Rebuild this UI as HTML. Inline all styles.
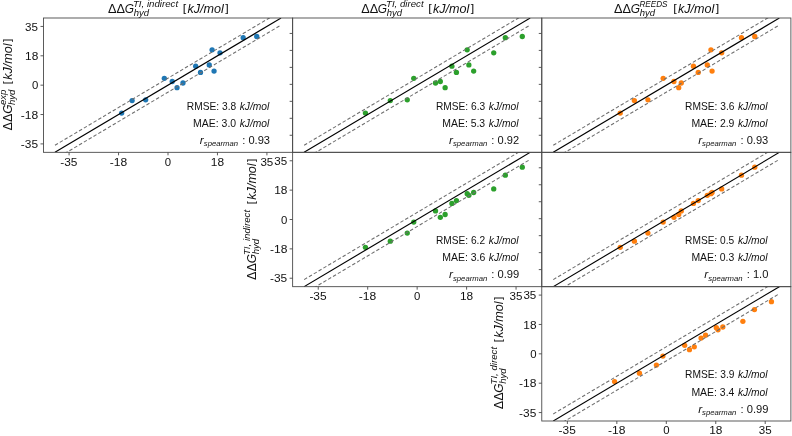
<!DOCTYPE html>
<html><head><meta charset="utf-8"><style>
html,body{margin:0;padding:0;background:#fff;}
body{width:792px;height:436px;overflow:hidden;}
svg{display:block;filter:blur(0.35px);}
text{font-family:"Liberation Sans",sans-serif;fill:#111;white-space:pre;}
.it{font-style:italic;}
</style></head><body>
<svg width="792" height="436" viewBox="0 0 792 436">
<rect x="0" y="0" width="792" height="436" fill="#fff"/>
<clipPath id="c00"><rect x="43.5" y="18" width="249.13" height="134.33"/></clipPath>
<rect x="43.5" y="18" width="249.13" height="134.33" fill="#fff"/>
<g clip-path="url(#c00)">
<circle cx="121.65" cy="113.04" r="2.65" fill="#1f77b4"/>
<circle cx="132.11" cy="100.62" r="2.65" fill="#1f77b4"/>
<circle cx="145.67" cy="99.78" r="2.65" fill="#1f77b4"/>
<circle cx="164.33" cy="78.3" r="2.65" fill="#1f77b4"/>
<circle cx="172.24" cy="81.49" r="2.65" fill="#1f77b4"/>
<circle cx="177.04" cy="87.7" r="2.65" fill="#1f77b4"/>
<circle cx="182.98" cy="83" r="2.65" fill="#1f77b4"/>
<circle cx="195.69" cy="66.22" r="2.65" fill="#1f77b4"/>
<circle cx="200.5" cy="72.43" r="2.65" fill="#1f77b4"/>
<circle cx="209.26" cy="64.88" r="2.65" fill="#1f77b4"/>
<circle cx="214.06" cy="71.09" r="2.65" fill="#1f77b4"/>
<circle cx="212.09" cy="49.78" r="2.65" fill="#1f77b4"/>
<circle cx="220" cy="52.8" r="2.65" fill="#1f77b4"/>
<circle cx="243.17" cy="37.7" r="2.65" fill="#1f77b4"/>
<circle cx="256.74" cy="36.52" r="2.65" fill="#1f77b4"/>
<line x1="54.96" y1="152.29" x2="281.04" y2="18.05" stroke="#000" stroke-width="1.15"/>
<line x1="54.96" y1="145.27" x2="281.04" y2="11.03" stroke="#6e6e6e" stroke-width="1.05" stroke-dasharray="3.5 2.1"/>
<line x1="54.96" y1="159.31" x2="281.04" y2="25.07" stroke="#6e6e6e" stroke-width="1.05" stroke-dasharray="3.5 2.1"/>
</g>
<text x="186.83" y="109.7" font-size="10.39" textLength="52.16" lengthAdjust="spacingAndGlyphs">RMSE: 3.8 </text>
<text x="239.67" y="109.7" font-size="10.39" class="it" textLength="29.68" lengthAdjust="spacingAndGlyphs">kJ/mol</text>
<text x="193.13" y="126.9" font-size="10.39" textLength="45.91" lengthAdjust="spacingAndGlyphs">MAE: 3.0 </text>
<text x="239.67" y="126.9" font-size="10.39" class="it" textLength="29.68" lengthAdjust="spacingAndGlyphs">kJ/mol</text>
<text x="199.89" y="144" font-size="10.39" class="it" textLength="3.99" lengthAdjust="spacingAndGlyphs">r</text>
<text x="203.83" y="146.4" font-size="7.27" class="it" textLength="34.23" lengthAdjust="spacingAndGlyphs">spearman</text>
<text x="239.14" y="144" font-size="10.39" textLength="30.9" lengthAdjust="spacingAndGlyphs"> : 0.93</text>
<clipPath id="c01"><rect x="292.63" y="18" width="249.14" height="134.33"/></clipPath>
<rect x="292.63" y="18" width="249.14" height="134.33" fill="#fff"/>
<g clip-path="url(#c01)">
<circle cx="365.43" cy="113.04" r="2.65" fill="#2ca02c"/>
<circle cx="390.3" cy="100.62" r="2.65" fill="#2ca02c"/>
<circle cx="407.26" cy="99.78" r="2.65" fill="#2ca02c"/>
<circle cx="413.76" cy="78.3" r="2.65" fill="#2ca02c"/>
<circle cx="440.32" cy="81.49" r="2.65" fill="#2ca02c"/>
<circle cx="445.13" cy="87.7" r="2.65" fill="#2ca02c"/>
<circle cx="435.52" cy="83" r="2.65" fill="#2ca02c"/>
<circle cx="451.91" cy="66.22" r="2.65" fill="#2ca02c"/>
<circle cx="456.43" cy="72.43" r="2.65" fill="#2ca02c"/>
<circle cx="468.87" cy="64.88" r="2.65" fill="#2ca02c"/>
<circle cx="473.67" cy="71.09" r="2.65" fill="#2ca02c"/>
<circle cx="467.17" cy="49.78" r="2.65" fill="#2ca02c"/>
<circle cx="493.73" cy="52.8" r="2.65" fill="#2ca02c"/>
<circle cx="505.32" cy="37.7" r="2.65" fill="#2ca02c"/>
<circle cx="522.28" cy="36.52" r="2.65" fill="#2ca02c"/>
<line x1="304.11" y1="152.29" x2="530.19" y2="18.05" stroke="#000" stroke-width="1.15"/>
<line x1="304.11" y1="145.27" x2="530.19" y2="11.03" stroke="#6e6e6e" stroke-width="1.05" stroke-dasharray="3.5 2.1"/>
<line x1="304.11" y1="159.31" x2="530.19" y2="25.07" stroke="#6e6e6e" stroke-width="1.05" stroke-dasharray="3.5 2.1"/>
</g>
<text x="435.97" y="109.7" font-size="10.39" textLength="52.04" lengthAdjust="spacingAndGlyphs">RMSE: 6.3 </text>
<text x="488.81" y="109.7" font-size="10.39" class="it" textLength="29.68" lengthAdjust="spacingAndGlyphs">kJ/mol</text>
<text x="442.27" y="126.9" font-size="10.39" textLength="45.82" lengthAdjust="spacingAndGlyphs">MAE: 5.3 </text>
<text x="488.81" y="126.9" font-size="10.39" class="it" textLength="29.68" lengthAdjust="spacingAndGlyphs">kJ/mol</text>
<text x="449.03" y="144" font-size="10.39" class="it" textLength="3.99" lengthAdjust="spacingAndGlyphs">r</text>
<text x="452.97" y="146.4" font-size="7.27" class="it" textLength="34.23" lengthAdjust="spacingAndGlyphs">spearman</text>
<text x="488.3" y="144" font-size="10.39" textLength="30.75" lengthAdjust="spacingAndGlyphs"> : 0.92</text>
<clipPath id="c02"><rect x="541.77" y="18" width="249.13" height="134.33"/></clipPath>
<rect x="541.77" y="18" width="249.13" height="134.33" fill="#fff"/>
<g clip-path="url(#c02)">
<circle cx="620.24" cy="113.04" r="2.65" fill="#ff7f0e"/>
<circle cx="634.37" cy="100.62" r="2.65" fill="#ff7f0e"/>
<circle cx="647.93" cy="99.78" r="2.65" fill="#ff7f0e"/>
<circle cx="663.19" cy="78.3" r="2.65" fill="#ff7f0e"/>
<circle cx="673.93" cy="81.49" r="2.65" fill="#ff7f0e"/>
<circle cx="678.73" cy="87.7" r="2.65" fill="#ff7f0e"/>
<circle cx="681.28" cy="83" r="2.65" fill="#ff7f0e"/>
<circle cx="693.43" cy="66.22" r="2.65" fill="#ff7f0e"/>
<circle cx="698.23" cy="72.43" r="2.65" fill="#ff7f0e"/>
<circle cx="707.28" cy="64.88" r="2.65" fill="#ff7f0e"/>
<circle cx="712.08" cy="71.09" r="2.65" fill="#ff7f0e"/>
<circle cx="710.95" cy="49.78" r="2.65" fill="#ff7f0e"/>
<circle cx="721.69" cy="52.8" r="2.65" fill="#ff7f0e"/>
<circle cx="741.47" cy="37.7" r="2.65" fill="#ff7f0e"/>
<circle cx="754.75" cy="36.52" r="2.65" fill="#ff7f0e"/>
<line x1="553.26" y1="152.29" x2="779.34" y2="18.05" stroke="#000" stroke-width="1.15"/>
<line x1="553.26" y1="145.27" x2="779.34" y2="11.03" stroke="#6e6e6e" stroke-width="1.05" stroke-dasharray="3.5 2.1"/>
<line x1="553.26" y1="159.31" x2="779.34" y2="25.07" stroke="#6e6e6e" stroke-width="1.05" stroke-dasharray="3.5 2.1"/>
</g>
<text x="685.1" y="109.7" font-size="10.39" textLength="52.23" lengthAdjust="spacingAndGlyphs">RMSE: 3.6 </text>
<text x="737.94" y="109.7" font-size="10.39" class="it" textLength="29.68" lengthAdjust="spacingAndGlyphs">kJ/mol</text>
<text x="691.4" y="126.9" font-size="10.39" textLength="45.97" lengthAdjust="spacingAndGlyphs">MAE: 2.9 </text>
<text x="737.94" y="126.9" font-size="10.39" class="it" textLength="29.68" lengthAdjust="spacingAndGlyphs">kJ/mol</text>
<text x="698.16" y="144" font-size="10.39" class="it" textLength="3.99" lengthAdjust="spacingAndGlyphs">r</text>
<text x="702.1" y="146.4" font-size="7.27" class="it" textLength="34.23" lengthAdjust="spacingAndGlyphs">spearman</text>
<text x="737.41" y="144" font-size="10.39" textLength="30.9" lengthAdjust="spacingAndGlyphs"> : 0.93</text>
<clipPath id="c11"><rect x="292.63" y="152.33" width="249.14" height="134.34"/></clipPath>
<rect x="292.63" y="152.33" width="249.14" height="134.34" fill="#fff"/>
<g clip-path="url(#c11)">
<circle cx="365.43" cy="247.37" r="2.65" fill="#2ca02c"/>
<circle cx="390.3" cy="241.16" r="2.65" fill="#2ca02c"/>
<circle cx="407.26" cy="233.11" r="2.65" fill="#2ca02c"/>
<circle cx="413.76" cy="222.03" r="2.65" fill="#2ca02c"/>
<circle cx="440.32" cy="217.33" r="2.65" fill="#2ca02c"/>
<circle cx="445.13" cy="214.48" r="2.65" fill="#2ca02c"/>
<circle cx="435.52" cy="210.96" r="2.65" fill="#2ca02c"/>
<circle cx="451.91" cy="203.41" r="2.65" fill="#2ca02c"/>
<circle cx="456.43" cy="200.55" r="2.65" fill="#2ca02c"/>
<circle cx="468.87" cy="195.35" r="2.65" fill="#2ca02c"/>
<circle cx="473.67" cy="192.5" r="2.65" fill="#2ca02c"/>
<circle cx="467.17" cy="193.67" r="2.65" fill="#2ca02c"/>
<circle cx="493.73" cy="188.97" r="2.65" fill="#2ca02c"/>
<circle cx="505.32" cy="175.22" r="2.65" fill="#2ca02c"/>
<circle cx="522.28" cy="167.16" r="2.65" fill="#2ca02c"/>
<line x1="304.11" y1="286.62" x2="530.19" y2="152.38" stroke="#000" stroke-width="1.15"/>
<line x1="304.11" y1="279.6" x2="530.19" y2="145.36" stroke="#6e6e6e" stroke-width="1.05" stroke-dasharray="3.5 2.1"/>
<line x1="304.11" y1="293.64" x2="530.19" y2="159.4" stroke="#6e6e6e" stroke-width="1.05" stroke-dasharray="3.5 2.1"/>
</g>
<text x="435.97" y="244.03" font-size="10.39" textLength="51.9" lengthAdjust="spacingAndGlyphs">RMSE: 6.2 </text>
<text x="488.81" y="244.03" font-size="10.39" class="it" textLength="29.68" lengthAdjust="spacingAndGlyphs">kJ/mol</text>
<text x="442.27" y="261.23" font-size="10.39" textLength="46.01" lengthAdjust="spacingAndGlyphs">MAE: 3.6 </text>
<text x="488.81" y="261.23" font-size="10.39" class="it" textLength="29.68" lengthAdjust="spacingAndGlyphs">kJ/mol</text>
<text x="449.03" y="278.33" font-size="10.39" class="it" textLength="3.99" lengthAdjust="spacingAndGlyphs">r</text>
<text x="452.97" y="280.73" font-size="7.27" class="it" textLength="34.23" lengthAdjust="spacingAndGlyphs">spearman</text>
<text x="488.26" y="278.33" font-size="10.39" textLength="31.05" lengthAdjust="spacingAndGlyphs"> : 0.99</text>
<clipPath id="c12"><rect x="541.77" y="152.33" width="249.13" height="134.34"/></clipPath>
<rect x="541.77" y="152.33" width="249.13" height="134.34" fill="#fff"/>
<g clip-path="url(#c12)">
<circle cx="620.24" cy="247.37" r="2.65" fill="#ff7f0e"/>
<circle cx="634.37" cy="241.16" r="2.65" fill="#ff7f0e"/>
<circle cx="647.93" cy="233.11" r="2.65" fill="#ff7f0e"/>
<circle cx="663.19" cy="222.03" r="2.65" fill="#ff7f0e"/>
<circle cx="673.93" cy="217.33" r="2.65" fill="#ff7f0e"/>
<circle cx="678.73" cy="214.48" r="2.65" fill="#ff7f0e"/>
<circle cx="681.28" cy="210.96" r="2.65" fill="#ff7f0e"/>
<circle cx="693.43" cy="203.41" r="2.65" fill="#ff7f0e"/>
<circle cx="698.23" cy="200.55" r="2.65" fill="#ff7f0e"/>
<circle cx="707.28" cy="195.35" r="2.65" fill="#ff7f0e"/>
<circle cx="712.08" cy="192.5" r="2.65" fill="#ff7f0e"/>
<circle cx="710.95" cy="193.67" r="2.65" fill="#ff7f0e"/>
<circle cx="721.69" cy="188.97" r="2.65" fill="#ff7f0e"/>
<circle cx="741.47" cy="175.22" r="2.65" fill="#ff7f0e"/>
<circle cx="754.75" cy="167.16" r="2.65" fill="#ff7f0e"/>
<line x1="553.26" y1="286.62" x2="779.34" y2="152.38" stroke="#000" stroke-width="1.15"/>
<line x1="553.26" y1="279.6" x2="779.34" y2="145.36" stroke="#6e6e6e" stroke-width="1.05" stroke-dasharray="3.5 2.1"/>
<line x1="553.26" y1="293.64" x2="779.34" y2="159.4" stroke="#6e6e6e" stroke-width="1.05" stroke-dasharray="3.5 2.1"/>
</g>
<text x="685.1" y="244.03" font-size="10.39" textLength="51.94" lengthAdjust="spacingAndGlyphs">RMSE: 0.5 </text>
<text x="737.94" y="244.03" font-size="10.39" class="it" textLength="29.68" lengthAdjust="spacingAndGlyphs">kJ/mol</text>
<text x="691.4" y="261.23" font-size="10.39" textLength="45.82" lengthAdjust="spacingAndGlyphs">MAE: 0.3 </text>
<text x="737.94" y="261.23" font-size="10.39" class="it" textLength="29.68" lengthAdjust="spacingAndGlyphs">kJ/mol</text>
<text x="704.39" y="278.33" font-size="10.39" class="it" textLength="3.99" lengthAdjust="spacingAndGlyphs">r</text>
<text x="708.33" y="280.73" font-size="7.27" class="it" textLength="34.23" lengthAdjust="spacingAndGlyphs">spearman</text>
<text x="743.64" y="278.33" font-size="10.39" textLength="24.75" lengthAdjust="spacingAndGlyphs"> : 1.0</text>
<clipPath id="c22"><rect x="541.77" y="286.67" width="249.13" height="134.33"/></clipPath>
<rect x="541.77" y="286.67" width="249.13" height="134.33" fill="#fff"/>
<g clip-path="url(#c22)">
<circle cx="614.58" cy="381.53" r="2.65" fill="#ff7f0e"/>
<circle cx="639.45" cy="373.14" r="2.65" fill="#ff7f0e"/>
<circle cx="656.41" cy="365.09" r="2.65" fill="#ff7f0e"/>
<circle cx="662.91" cy="356.03" r="2.65" fill="#ff7f0e"/>
<circle cx="689.47" cy="349.65" r="2.65" fill="#ff7f0e"/>
<circle cx="694.28" cy="346.8" r="2.65" fill="#ff7f0e"/>
<circle cx="684.67" cy="345.29" r="2.65" fill="#ff7f0e"/>
<circle cx="701.06" cy="338.07" r="2.65" fill="#ff7f0e"/>
<circle cx="705.58" cy="335.22" r="2.65" fill="#ff7f0e"/>
<circle cx="718.02" cy="329.85" r="2.65" fill="#ff7f0e"/>
<circle cx="722.82" cy="327" r="2.65" fill="#ff7f0e"/>
<circle cx="716.32" cy="327.67" r="2.65" fill="#ff7f0e"/>
<circle cx="742.88" cy="321.29" r="2.65" fill="#ff7f0e"/>
<circle cx="754.47" cy="309.55" r="2.65" fill="#ff7f0e"/>
<circle cx="771.43" cy="301.66" r="2.65" fill="#ff7f0e"/>
<line x1="553.26" y1="420.95" x2="779.34" y2="286.71" stroke="#000" stroke-width="1.15"/>
<line x1="553.26" y1="413.93" x2="779.34" y2="279.69" stroke="#6e6e6e" stroke-width="1.05" stroke-dasharray="3.5 2.1"/>
<line x1="553.26" y1="427.97" x2="779.34" y2="293.73" stroke="#6e6e6e" stroke-width="1.05" stroke-dasharray="3.5 2.1"/>
</g>
<text x="685.1" y="378.37" font-size="10.39" textLength="52.19" lengthAdjust="spacingAndGlyphs">RMSE: 3.9 </text>
<text x="737.94" y="378.37" font-size="10.39" class="it" textLength="29.68" lengthAdjust="spacingAndGlyphs">kJ/mol</text>
<text x="691.4" y="395.57" font-size="10.39" textLength="45.91" lengthAdjust="spacingAndGlyphs">MAE: 3.4 </text>
<text x="737.94" y="395.57" font-size="10.39" class="it" textLength="29.68" lengthAdjust="spacingAndGlyphs">kJ/mol</text>
<text x="698.16" y="412.67" font-size="10.39" class="it" textLength="3.99" lengthAdjust="spacingAndGlyphs">r</text>
<text x="702.1" y="415.07" font-size="7.27" class="it" textLength="34.23" lengthAdjust="spacingAndGlyphs">spearman</text>
<text x="737.39" y="412.67" font-size="10.39" textLength="31.05" lengthAdjust="spacingAndGlyphs"> : 0.99</text>
<rect x="43.5" y="18" width="249.13" height="134.33" fill="none" stroke="#4a4a4a" stroke-width="0.9"/>
<line x1="40.5" y1="143.9" x2="43.5" y2="143.9" stroke="#4a4a4a" stroke-width="0.9"/>
<text x="20.86" y="148" font-size="11.45" textLength="17.2" lengthAdjust="spacingAndGlyphs">-35</text>
<line x1="69.09" y1="152.33" x2="69.09" y2="155.33" stroke="#4a4a4a" stroke-width="0.9"/>
<text x="60.27" y="165.63" font-size="11.45" textLength="17.2" lengthAdjust="spacingAndGlyphs">-35</text>
<line x1="40.5" y1="114.53" x2="43.5" y2="114.53" stroke="#4a4a4a" stroke-width="0.9"/>
<text x="20.85" y="118.63" font-size="11.45" textLength="17.43" lengthAdjust="spacingAndGlyphs">-18</text>
<line x1="118.55" y1="152.33" x2="118.55" y2="155.33" stroke="#4a4a4a" stroke-width="0.9"/>
<text x="109.72" y="165.63" font-size="11.45" textLength="17.43" lengthAdjust="spacingAndGlyphs">-18</text>
<line x1="40.5" y1="85.17" x2="43.5" y2="85.17" stroke="#4a4a4a" stroke-width="0.9"/>
<text x="31.9" y="89.27" font-size="11.45" textLength="6.33" lengthAdjust="spacingAndGlyphs">0</text>
<line x1="168" y1="152.33" x2="168" y2="155.33" stroke="#4a4a4a" stroke-width="0.9"/>
<text x="164.83" y="165.63" font-size="11.45" textLength="6.33" lengthAdjust="spacingAndGlyphs">0</text>
<line x1="40.5" y1="55.81" x2="43.5" y2="55.81" stroke="#4a4a4a" stroke-width="0.9"/>
<text x="25.04" y="59.91" font-size="11.45" textLength="13.24" lengthAdjust="spacingAndGlyphs">18</text>
<line x1="217.45" y1="152.33" x2="217.45" y2="155.33" stroke="#4a4a4a" stroke-width="0.9"/>
<text x="210.86" y="165.63" font-size="11.45" textLength="13.24" lengthAdjust="spacingAndGlyphs">18</text>
<line x1="40.5" y1="26.44" x2="43.5" y2="26.44" stroke="#4a4a4a" stroke-width="0.9"/>
<text x="25.14" y="30.54" font-size="11.45" textLength="12.91" lengthAdjust="spacingAndGlyphs">35</text>
<line x1="266.91" y1="152.33" x2="266.91" y2="155.33" stroke="#4a4a4a" stroke-width="0.9"/>
<text x="260.42" y="165.63" font-size="11.45" textLength="12.91" lengthAdjust="spacingAndGlyphs">35</text>
<rect x="292.63" y="18" width="249.14" height="134.33" fill="none" stroke="#4a4a4a" stroke-width="0.9"/>
<line x1="289.63" y1="33.45" x2="292.63" y2="33.45" stroke="#4a4a4a" stroke-width="0.9"/>
<line x1="289.63" y1="50.42" x2="292.63" y2="50.42" stroke="#4a4a4a" stroke-width="0.9"/>
<line x1="289.63" y1="67.39" x2="292.63" y2="67.39" stroke="#4a4a4a" stroke-width="0.9"/>
<line x1="289.63" y1="84.36" x2="292.63" y2="84.36" stroke="#4a4a4a" stroke-width="0.9"/>
<line x1="289.63" y1="101.33" x2="292.63" y2="101.33" stroke="#4a4a4a" stroke-width="0.9"/>
<line x1="289.63" y1="118.3" x2="292.63" y2="118.3" stroke="#4a4a4a" stroke-width="0.9"/>
<line x1="289.63" y1="135.27" x2="292.63" y2="135.27" stroke="#4a4a4a" stroke-width="0.9"/>
<rect x="541.77" y="18" width="249.13" height="134.33" fill="none" stroke="#4a4a4a" stroke-width="0.9"/>
<line x1="538.77" y1="33.45" x2="541.77" y2="33.45" stroke="#4a4a4a" stroke-width="0.9"/>
<line x1="538.77" y1="50.42" x2="541.77" y2="50.42" stroke="#4a4a4a" stroke-width="0.9"/>
<line x1="538.77" y1="67.39" x2="541.77" y2="67.39" stroke="#4a4a4a" stroke-width="0.9"/>
<line x1="538.77" y1="84.36" x2="541.77" y2="84.36" stroke="#4a4a4a" stroke-width="0.9"/>
<line x1="538.77" y1="101.33" x2="541.77" y2="101.33" stroke="#4a4a4a" stroke-width="0.9"/>
<line x1="538.77" y1="118.3" x2="541.77" y2="118.3" stroke="#4a4a4a" stroke-width="0.9"/>
<line x1="538.77" y1="135.27" x2="541.77" y2="135.27" stroke="#4a4a4a" stroke-width="0.9"/>
<rect x="292.63" y="152.33" width="249.14" height="134.34" fill="none" stroke="#4a4a4a" stroke-width="0.9"/>
<line x1="289.63" y1="278.23" x2="292.63" y2="278.23" stroke="#4a4a4a" stroke-width="0.9"/>
<text x="269.99" y="282.33" font-size="11.45" textLength="17.2" lengthAdjust="spacingAndGlyphs">-35</text>
<line x1="318.24" y1="286.67" x2="318.24" y2="289.67" stroke="#4a4a4a" stroke-width="0.9"/>
<text x="309.42" y="299.97" font-size="11.45" textLength="17.2" lengthAdjust="spacingAndGlyphs">-35</text>
<line x1="289.63" y1="248.87" x2="292.63" y2="248.87" stroke="#4a4a4a" stroke-width="0.9"/>
<text x="269.98" y="252.97" font-size="11.45" textLength="17.43" lengthAdjust="spacingAndGlyphs">-18</text>
<line x1="367.69" y1="286.67" x2="367.69" y2="289.67" stroke="#4a4a4a" stroke-width="0.9"/>
<text x="358.87" y="299.97" font-size="11.45" textLength="17.43" lengthAdjust="spacingAndGlyphs">-18</text>
<line x1="289.63" y1="219.5" x2="292.63" y2="219.5" stroke="#4a4a4a" stroke-width="0.9"/>
<text x="281.03" y="223.6" font-size="11.45" textLength="6.33" lengthAdjust="spacingAndGlyphs">0</text>
<line x1="417.15" y1="286.67" x2="417.15" y2="289.67" stroke="#4a4a4a" stroke-width="0.9"/>
<text x="413.98" y="299.97" font-size="11.45" textLength="6.33" lengthAdjust="spacingAndGlyphs">0</text>
<line x1="289.63" y1="190.13" x2="292.63" y2="190.13" stroke="#4a4a4a" stroke-width="0.9"/>
<text x="274.17" y="194.23" font-size="11.45" textLength="13.24" lengthAdjust="spacingAndGlyphs">18</text>
<line x1="466.6" y1="286.67" x2="466.6" y2="289.67" stroke="#4a4a4a" stroke-width="0.9"/>
<text x="460.01" y="299.97" font-size="11.45" textLength="13.24" lengthAdjust="spacingAndGlyphs">18</text>
<line x1="289.63" y1="160.77" x2="292.63" y2="160.77" stroke="#4a4a4a" stroke-width="0.9"/>
<text x="274.27" y="164.87" font-size="11.45" textLength="12.91" lengthAdjust="spacingAndGlyphs">35</text>
<line x1="516.06" y1="286.67" x2="516.06" y2="289.67" stroke="#4a4a4a" stroke-width="0.9"/>
<text x="509.57" y="299.97" font-size="11.45" textLength="12.91" lengthAdjust="spacingAndGlyphs">35</text>
<rect x="541.77" y="152.33" width="249.13" height="134.34" fill="none" stroke="#4a4a4a" stroke-width="0.9"/>
<line x1="538.77" y1="167.78" x2="541.77" y2="167.78" stroke="#4a4a4a" stroke-width="0.9"/>
<line x1="538.77" y1="184.75" x2="541.77" y2="184.75" stroke="#4a4a4a" stroke-width="0.9"/>
<line x1="538.77" y1="201.72" x2="541.77" y2="201.72" stroke="#4a4a4a" stroke-width="0.9"/>
<line x1="538.77" y1="218.69" x2="541.77" y2="218.69" stroke="#4a4a4a" stroke-width="0.9"/>
<line x1="538.77" y1="235.66" x2="541.77" y2="235.66" stroke="#4a4a4a" stroke-width="0.9"/>
<line x1="538.77" y1="252.63" x2="541.77" y2="252.63" stroke="#4a4a4a" stroke-width="0.9"/>
<line x1="538.77" y1="269.6" x2="541.77" y2="269.6" stroke="#4a4a4a" stroke-width="0.9"/>
<rect x="541.77" y="286.67" width="249.13" height="134.33" fill="none" stroke="#4a4a4a" stroke-width="0.9"/>
<line x1="538.77" y1="412.56" x2="541.77" y2="412.56" stroke="#4a4a4a" stroke-width="0.9"/>
<text x="519.13" y="416.66" font-size="11.45" textLength="17.2" lengthAdjust="spacingAndGlyphs">-35</text>
<line x1="567.39" y1="421" x2="567.39" y2="424" stroke="#4a4a4a" stroke-width="0.9"/>
<text x="558.57" y="434.3" font-size="11.45" textLength="17.2" lengthAdjust="spacingAndGlyphs">-35</text>
<line x1="538.77" y1="383.19" x2="541.77" y2="383.19" stroke="#4a4a4a" stroke-width="0.9"/>
<text x="519.12" y="387.3" font-size="11.45" textLength="17.43" lengthAdjust="spacingAndGlyphs">-18</text>
<line x1="616.84" y1="421" x2="616.84" y2="424" stroke="#4a4a4a" stroke-width="0.9"/>
<text x="608.02" y="434.3" font-size="11.45" textLength="17.43" lengthAdjust="spacingAndGlyphs">-18</text>
<line x1="538.77" y1="353.83" x2="541.77" y2="353.83" stroke="#4a4a4a" stroke-width="0.9"/>
<text x="530.17" y="357.93" font-size="11.45" textLength="6.33" lengthAdjust="spacingAndGlyphs">0</text>
<line x1="666.3" y1="421" x2="666.3" y2="424" stroke="#4a4a4a" stroke-width="0.9"/>
<text x="663.13" y="434.3" font-size="11.45" textLength="6.33" lengthAdjust="spacingAndGlyphs">0</text>
<line x1="538.77" y1="324.46" x2="541.77" y2="324.46" stroke="#4a4a4a" stroke-width="0.9"/>
<text x="523.31" y="328.56" font-size="11.45" textLength="13.24" lengthAdjust="spacingAndGlyphs">18</text>
<line x1="715.75" y1="421" x2="715.75" y2="424" stroke="#4a4a4a" stroke-width="0.9"/>
<text x="709.16" y="434.3" font-size="11.45" textLength="13.24" lengthAdjust="spacingAndGlyphs">18</text>
<line x1="538.77" y1="295.1" x2="541.77" y2="295.1" stroke="#4a4a4a" stroke-width="0.9"/>
<text x="523.41" y="299.2" font-size="11.45" textLength="12.91" lengthAdjust="spacingAndGlyphs">35</text>
<line x1="765.21" y1="421" x2="765.21" y2="424" stroke="#4a4a4a" stroke-width="0.9"/>
<text x="758.72" y="434.3" font-size="11.45" textLength="12.91" lengthAdjust="spacingAndGlyphs">35</text>
<g transform="translate(108.4,12.9)">
<text x="-0.29" y="0" font-size="12.72" textLength="16.99" lengthAdjust="spacingAndGlyphs">ΔΔ</text>
<text x="16.37" y="0" font-size="12.72" class="it" textLength="9.26" lengthAdjust="spacingAndGlyphs">G</text>
<text x="24.51" y="-5.6" font-size="8.9" class="it" textLength="45.24" lengthAdjust="spacingAndGlyphs">TI, indirect</text>
<text x="25.25" y="3" font-size="8.9" class="it" textLength="15.28" lengthAdjust="spacingAndGlyphs">hyd</text>
<text x="74.34" y="-0.8" font-size="11.47" textLength="3.47" lengthAdjust="spacingAndGlyphs">[</text>
<text x="79.09" y="0" font-size="12.72" class="it" textLength="36.34" lengthAdjust="spacingAndGlyphs">kJ/mol</text>
<text x="116.85" y="-0.8" font-size="11.47" textLength="3.47" lengthAdjust="spacingAndGlyphs">]</text>
</g>
<g transform="translate(361.5,12.9)">
<text x="-0.29" y="0" font-size="12.72" textLength="16.99" lengthAdjust="spacingAndGlyphs">ΔΔ</text>
<text x="16.37" y="0" font-size="12.72" class="it" textLength="9.26" lengthAdjust="spacingAndGlyphs">G</text>
<text x="24.51" y="-5.6" font-size="8.9" class="it" textLength="37.58" lengthAdjust="spacingAndGlyphs">TI, direct</text>
<text x="25.25" y="3" font-size="8.9" class="it" textLength="15.28" lengthAdjust="spacingAndGlyphs">hyd</text>
<text x="66.74" y="-0.8" font-size="11.47" textLength="3.47" lengthAdjust="spacingAndGlyphs">[</text>
<text x="71.49" y="0" font-size="12.72" class="it" textLength="36.34" lengthAdjust="spacingAndGlyphs">kJ/mol</text>
<text x="109.25" y="-0.8" font-size="11.47" textLength="3.47" lengthAdjust="spacingAndGlyphs">]</text>
</g>
<g transform="translate(614.4,12.9)">
<text x="-0.29" y="0" font-size="12.72" textLength="16.99" lengthAdjust="spacingAndGlyphs">ΔΔ</text>
<text x="16.37" y="0" font-size="12.72" class="it" textLength="9.26" lengthAdjust="spacingAndGlyphs">G</text>
<text x="24.99" y="-5.6" font-size="8.9" class="it" textLength="28.1" lengthAdjust="spacingAndGlyphs">REEDS</text>
<text x="25.25" y="3" font-size="8.9" class="it" textLength="15.28" lengthAdjust="spacingAndGlyphs">hyd</text>
<text x="58.84" y="-0.8" font-size="11.47" textLength="3.47" lengthAdjust="spacingAndGlyphs">[</text>
<text x="63.59" y="0" font-size="12.72" class="it" textLength="36.34" lengthAdjust="spacingAndGlyphs">kJ/mol</text>
<text x="101.35" y="-0.8" font-size="11.47" textLength="3.47" lengthAdjust="spacingAndGlyphs">]</text>
</g>
<g transform="translate(12,130.2) rotate(-90)">
<text x="-0.29" y="0" font-size="12.72" textLength="16.99" lengthAdjust="spacingAndGlyphs">ΔΔ</text>
<text x="16.37" y="0" font-size="12.72" class="it" textLength="9.26" lengthAdjust="spacingAndGlyphs">G</text>
<text x="25.08" y="-5.6" font-size="8.9" class="it" textLength="15.33" lengthAdjust="spacingAndGlyphs">exp</text>
<text x="25.25" y="3" font-size="8.9" class="it" textLength="15.28" lengthAdjust="spacingAndGlyphs">hyd</text>
<text x="45.58" y="-0.8" font-size="11.47" textLength="3.47" lengthAdjust="spacingAndGlyphs">[</text>
<text x="50.33" y="0" font-size="12.72" class="it" textLength="36.34" lengthAdjust="spacingAndGlyphs">kJ/mol</text>
<text x="88.09" y="-0.8" font-size="11.47" textLength="3.47" lengthAdjust="spacingAndGlyphs">]</text>
</g>
<g transform="translate(255.6,279.6) rotate(-90)">
<text x="-0.29" y="0" font-size="12.72" textLength="16.99" lengthAdjust="spacingAndGlyphs">ΔΔ</text>
<text x="16.37" y="0" font-size="12.72" class="it" textLength="9.26" lengthAdjust="spacingAndGlyphs">G</text>
<text x="24.51" y="-5.6" font-size="8.9" class="it" textLength="45.24" lengthAdjust="spacingAndGlyphs">TI, indirect</text>
<text x="25.25" y="3" font-size="8.9" class="it" textLength="15.28" lengthAdjust="spacingAndGlyphs">hyd</text>
<text x="75.18" y="-0.8" font-size="11.47" textLength="3.47" lengthAdjust="spacingAndGlyphs">[</text>
<text x="79.93" y="0" font-size="12.72" class="it" textLength="36.34" lengthAdjust="spacingAndGlyphs">kJ/mol</text>
<text x="117.69" y="-0.8" font-size="11.47" textLength="3.47" lengthAdjust="spacingAndGlyphs">]</text>
</g>
<g transform="translate(502.8,409) rotate(-90)">
<text x="-0.29" y="0" font-size="12.72" textLength="16.99" lengthAdjust="spacingAndGlyphs">ΔΔ</text>
<text x="16.37" y="0" font-size="12.72" class="it" textLength="9.26" lengthAdjust="spacingAndGlyphs">G</text>
<text x="24.51" y="-5.6" font-size="8.9" class="it" textLength="37.58" lengthAdjust="spacingAndGlyphs">TI, direct</text>
<text x="25.25" y="3" font-size="8.9" class="it" textLength="15.28" lengthAdjust="spacingAndGlyphs">hyd</text>
<text x="66.48" y="-0.8" font-size="11.47" textLength="3.47" lengthAdjust="spacingAndGlyphs">[</text>
<text x="71.23" y="0" font-size="12.72" class="it" textLength="36.34" lengthAdjust="spacingAndGlyphs">kJ/mol</text>
<text x="108.99" y="-0.8" font-size="11.47" textLength="3.47" lengthAdjust="spacingAndGlyphs">]</text>
</g>
</svg>
</body></html>
